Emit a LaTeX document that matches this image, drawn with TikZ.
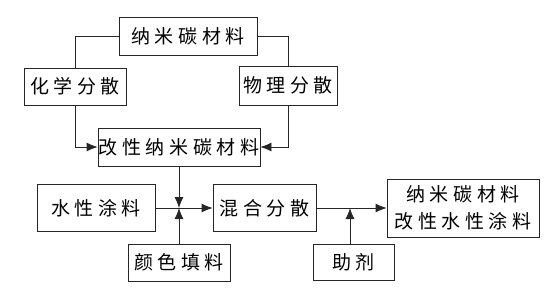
\documentclass[tikz,border=0pt]{standalone}
\usepackage{fontspec}
\usepackage{tikz}
\usetikzlibrary{arrows.meta}
\newfontfamily\cjk[LetterSpace=24]{Noto Sans CJK SC}
\tikzset{flow_box/.style={rectangle, draw=black!85, line width=0.8pt, inner sep=0pt, font=\cjk\fontsize{19pt}{27pt}\selectfont}}
\tikzset{flow_line/.style={draw=black!85, line width=0.8pt}}
\tikzset{flow_arrow/.style={flow_line, -{Latex[length=11pt,width=9pt]}}}

\begin{document}
\begin{tikzpicture}[x=1pt, y=-1pt]
    \useasboundingbox (0,0) rectangle (554,293);
    \node[flow_box, minimum width=138pt, minimum height=38pt] at (188, 36) (cnm) {纳米碳材料};
    \node[flow_box, minimum width=102pt, minimum height=37pt] at (75, 86.5) (chem) {化学分散};
    \node[flow_box, minimum width=98pt, minimum height=39pt] at (288, 85.5) (phys) {物理分散};
    \node[flow_box, minimum width=162pt, minimum height=38pt] at (179, 147) (mcnm) {改性纳米碳材料};
    \node[flow_box, minimum width=118pt, minimum height=47pt] at (96, 208) (wpaint) {水性涂料};
    \node[flow_box, minimum width=103pt, minimum height=47pt] at (264.5, 208) (mix) {混合分散};
    \node[flow_box, minimum width=102pt, minimum height=37pt] at (179, 262.5) (pigm) {颜色填料};
    \node[flow_box, minimum width=81pt, minimum height=36pt] at (353.5, 262) (aux) {助剂};
    \node[flow_box, minimum width=152pt, minimum height=58pt, align=center] at (463, 208) (prod) {纳米碳材料\\改性水性涂料};

    \coordinate (jn) at (179, 208);
    \coordinate (ax) at (350, 208);

    \draw[flow_line] (cnm.west) -| (chem.north);
    \draw[flow_arrow] (chem.south) |- (mcnm.west);
    \draw[flow_line] (cnm.east) -| (phys.north);
    \draw[flow_arrow] (phys.south) |- (mcnm.east);

    \draw[flow_arrow] (mcnm.south) -- (jn);
    \draw[flow_arrow] (pigm.north) -- (jn);
    \draw[flow_arrow] (wpaint.east) -- (mix.west);
    \draw[flow_arrow] (mix.east) -- (prod.west);
    \draw[flow_arrow] (ax |- aux.north) -- (ax);
\end{tikzpicture}
\end{document}
